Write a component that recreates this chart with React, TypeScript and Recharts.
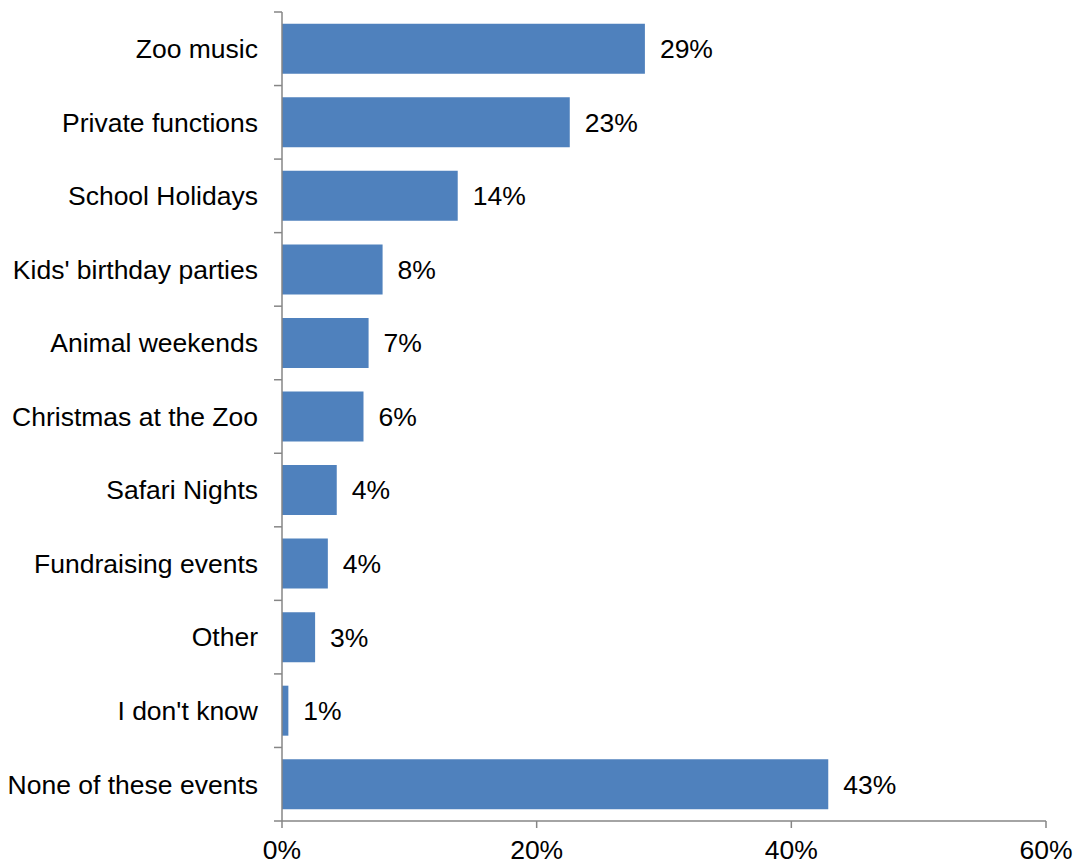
import React from 'react';
import { BarChart, Bar, XAxis, YAxis, LabelList } from 'recharts';

const categories = [
  'Zoo music',
  'Private functions',
  'School Holidays',
  "Kids' birthday parties",
  'Animal weekends',
  'Christmas at the Zoo',
  'Safari Nights',
  'Fundraising events',
  'Other',
  "I don't know",
  'None of these events',
];
const values = [28.5, 22.6, 13.8, 7.9, 6.8, 6.4, 4.3, 3.6, 2.6, 0.5, 42.9];
const xTicks = [0, 20, 40, 60];

const data = categories.map((name, i) => ({ name, value: values[i] }));

const FONT = '"Liberation Sans", Arial, sans-serif';
const FS = 26.5;
const AXIS = '#868686';
const BAR = '#4F81BD';

const CategoryTick = (props: any) => {
  const { x, y, payload, index, height, visibleTicksCount } = props;
  const band = height / visibleTicksCount;
  const ax = x + 24;
  return (
    <g>
      <line x1={ax - 8} x2={ax} y1={y - band / 2} y2={y - band / 2} stroke={AXIS} strokeWidth={1.5} />
      {index === visibleTicksCount - 1 && (
        <line x1={ax - 8} x2={ax} y1={y + band / 2} y2={y + band / 2} stroke={AXIS} strokeWidth={1.5} />
      )}
      <text x={x} y={y} dy="0.35em" textAnchor="end" fontFamily={FONT} fontSize={FS} fill="#000">
        {payload.value}
      </text>
    </g>
  );
};

export default function App() {
  return (
    <div style={{ position: 'absolute', left: 0, top: 0, width: 1076, height: 865, background: '#fff' }}>
      <BarChart
        width={1076}
        height={865}
        data={data}
        layout="vertical"
        margin={{ top: 12, right: 30, bottom: 0, left: 0 }}
        barCategoryGap="16%"
      >
        <XAxis
          type="number"
          domain={[0, 60]}
          ticks={xTicks}
          tickFormatter={(v: number) => `${v}%`}
          height={44}
          stroke={AXIS}
          strokeWidth={1.5}
          tickSize={7}
          tickMargin={12}
          tick={{ fill: '#000', fontSize: FS, fontFamily: FONT }}
          interval={0}
        />
        <YAxis
          type="category"
          dataKey="name"
          width={282}
          stroke={AXIS}
          strokeWidth={1.5}
          tickLine={false}
          tickSize={8}
          tickMargin={16}
          interval={0}
          tick={<CategoryTick />}
        />
        <Bar dataKey="value" fill={BAR} isAnimationActive={false}>
          <LabelList
            dataKey="value"
            position="right"
            offset={15}
            formatter={(v: number) => `${Math.round(v)}%`}
            style={{ fill: '#000', fontSize: FS, fontFamily: FONT }}
          />
        </Bar>
      </BarChart>
    </div>
  );
}
